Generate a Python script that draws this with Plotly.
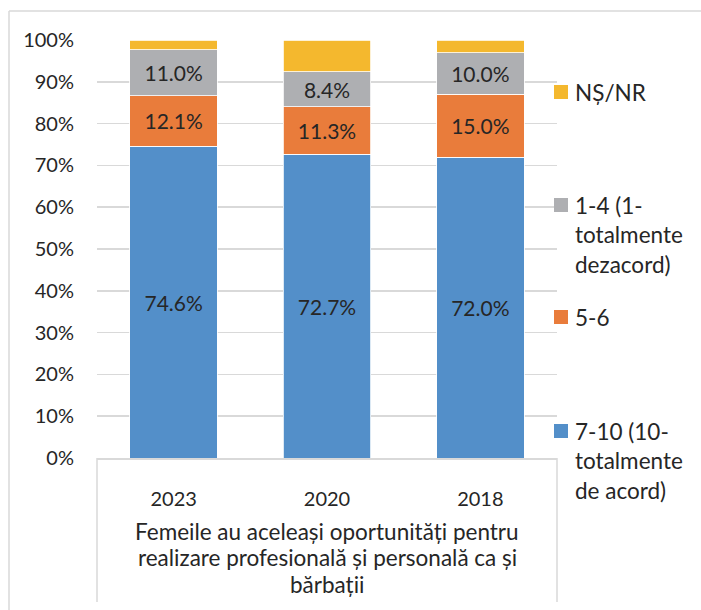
import plotly.graph_objects as go

years = ["2023", "2020", "2018"]
s_7_10 = [74.6, 72.7, 72.0]
s_5_6 = [12.1, 11.3, 15.0]
s_1_4 = [11.0, 8.4, 10.0]
s_ns = [2.3, 7.6, 3.0]

series_names = ["7-10 (10-<br>totalmente<br>de acord)", "5-6", "1-4 (1-<br>totalmente<br>dezacord)", "NȘ/NR"]
colors = ["#538FC9", "#E97C3B", "#AEAFB2", "#F4B82E"]
group_label = ["Femeile au aceleași oportunități pentru", "realizare profesională și personală ca și", "bărbații"]

FONT = "Lato"
TXT = "#262626"
FS_AX = 20
FS_LBL = 21
FS_TXT = 22.5

PW, PH = 701, 610
L, R, T, B = 97, 557, 40, 458

def px(x):
    return (x - L) / (R - L)

def py(y):
    return (B - y) / (B - T)

fig = go.Figure()
data = [s_7_10, s_5_6, s_1_4, s_ns]
for i, (vals, name, col) in enumerate(zip(data, series_names, colors)):
    fig.add_trace(go.Bar(
        x=years, y=[v / 100 for v in vals], name=name,
        marker=dict(color=col, line=dict(color="white", width=0.8)),
        width=0.57,
        texttemplate="%{y:.1%}" if i < 3 else "",
        textposition="inside", insidetextanchor="middle", textangle=0,
        insidetextfont=dict(family=FONT, size=FS_LBL, color=TXT),
        showlegend=False, hoverinfo="skip",
    ))

shapes = []
# outer chart border
shapes.append(dict(type="line", xref="paper", yref="paper", x0=px(9), x1=px(PW + 5), y0=py(11), y1=py(11), line=dict(color="#D9D9D9", width=1.5)))
shapes.append(dict(type="line", xref="paper", yref="paper", x0=px(9), x1=px(9), y0=py(11), y1=py(PH + 5), line=dict(color="#D9D9D9", width=1.5)))
# category box vertical lines
for xx in (L, R):
    shapes.append(dict(type="line", xref="paper", yref="paper", x0=px(xx), x1=px(xx), y0=py(B), y1=py(602), line=dict(color="#D9D9D9", width=1.5)))

annotations = []
for i, line in enumerate(group_label):
    annotations.append(dict(xref="paper", yref="paper", x=px((L + R) / 2), y=py(531 + i * 26.5),
                            text=line, showarrow=False, xanchor="center", yanchor="middle",
                            font=dict(family=FONT, size=FS_TXT, color=TXT)))

# legend (top to bottom)
legend_items = [
    ("NȘ/NR", colors[3], 92),
    ("1-4 (1-|totalmente|dezacord)", colors[2], 205),
    ("5-6", colors[1], 317),
    ("7-10 (10-|totalmente|de acord)", colors[0], 431),
]
for text, col, yc in legend_items:
    shapes.append(dict(type="rect", xref="paper", yref="paper", x0=px(554), x1=px(568), y0=py(yc - 7), y1=py(yc + 7),
                       fillcolor=col, line=dict(width=0)))
    for j, ln in enumerate(text.split("|")):
        annotations.append(dict(xref="paper", yref="paper", x=px(573), y=py(yc + j * 29.5), text=ln,
                                showarrow=False, xanchor="left", yanchor="middle",
                                font=dict(family=FONT, size=FS_TXT, color=TXT)))

fig.update_layout(
    barmode="stack",
    width=PW, height=PH,
    margin=dict(l=L, r=PW - R, t=T, b=PH - B, pad=0),
    plot_bgcolor="white", paper_bgcolor="white",
    font=dict(family=FONT, size=FS_AX, color=TXT),
    shapes=shapes, annotations=annotations,
    showlegend=False,
    uniformtext=dict(mode="show", minsize=FS_LBL),
)
fig.update_yaxes(range=[0, 1], dtick=0.1, tickformat=".0%", showgrid=True, gridcolor="#D9D9D9", gridwidth=1.5,
                 zeroline=False, showline=False, ticks="", ticklabelstandoff=22,
                 tickfont=dict(family=FONT, size=FS_AX, color=TXT), fixedrange=True)
fig.update_xaxes(showline=True, linecolor="#D9D9D9", linewidth=1.5, ticks="", ticklabelstandoff=22,
                 tickfont=dict(family=FONT, size=FS_AX, color=TXT))

fig.write_html(
    "out.html",
    config={"displayModeBar": False, "staticPlot": True},
    post_script="document.body.style.margin='0';document.body.style.overflow='hidden';",
)
